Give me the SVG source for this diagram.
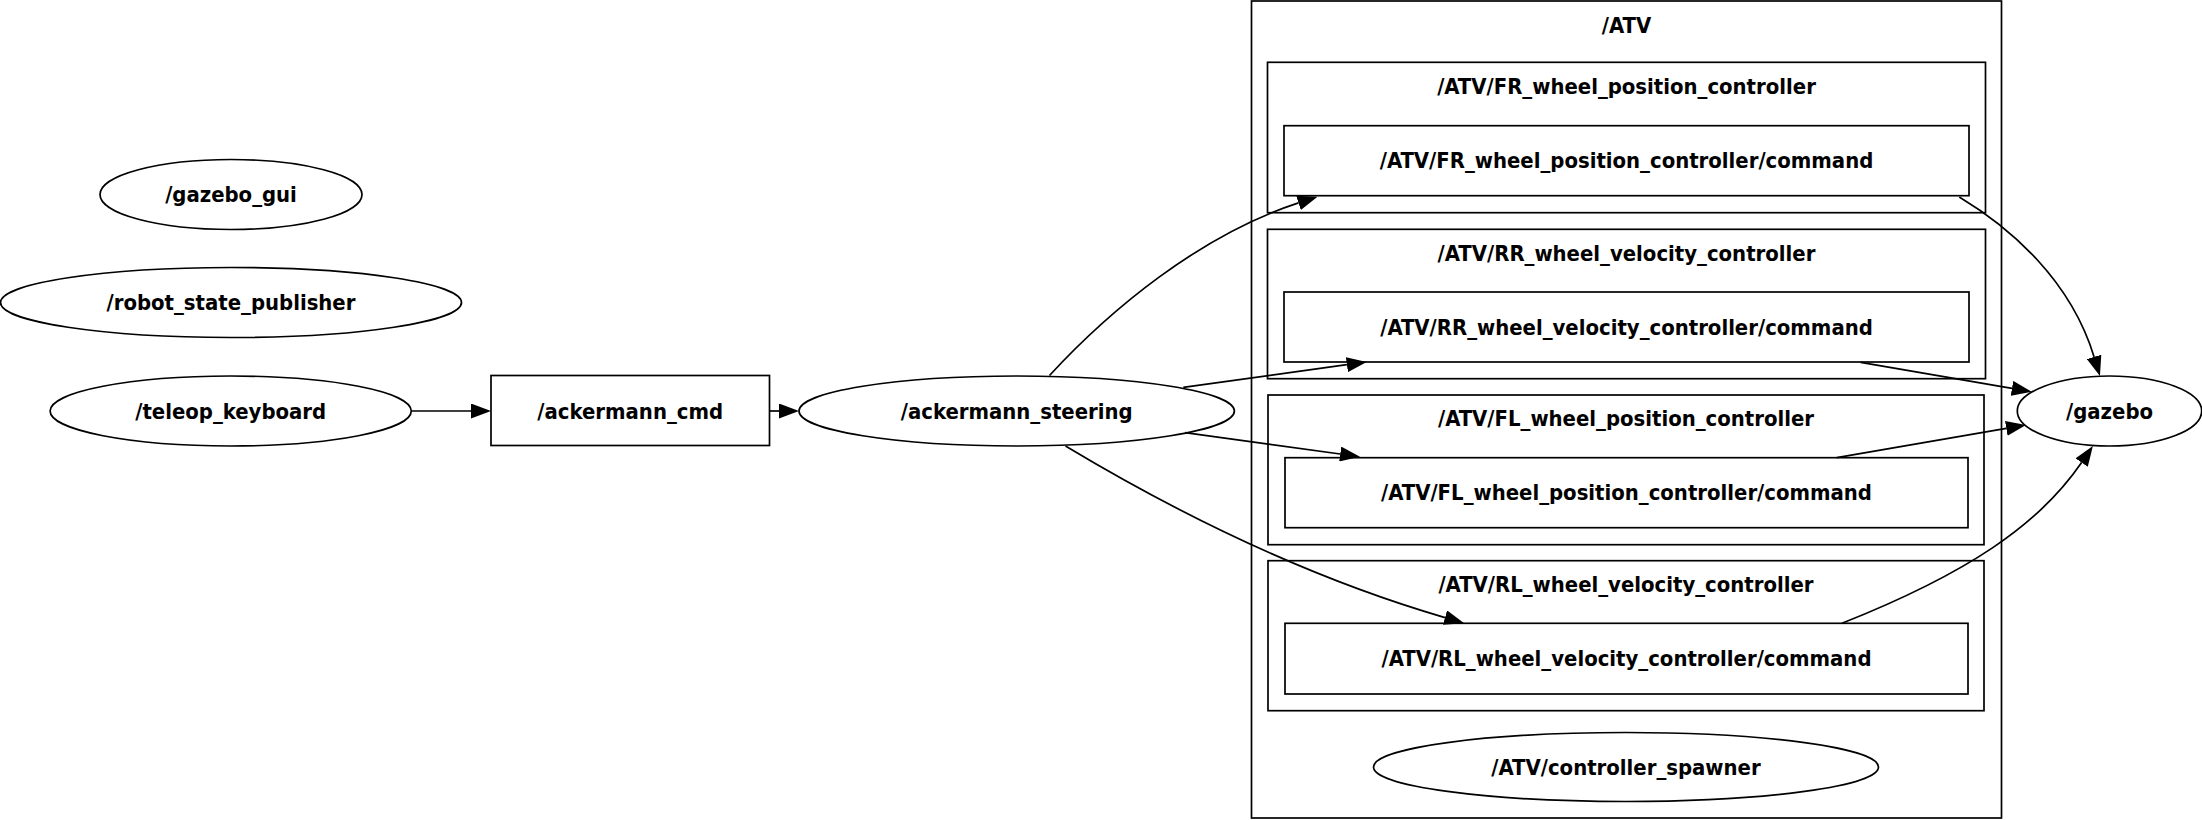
<svg xmlns="http://www.w3.org/2000/svg" width="2202" height="820" viewBox="0 0 2202 820">
<style>
.s{fill:#fff;stroke:#000;stroke-width:1.7}
.c{fill:none;stroke:#000;stroke-width:1.7}
text{font-family:"DejaVu Sans","Liberation Sans",sans-serif;font-stretch:condensed;font-weight:bold;font-size:21.9px;text-anchor:middle;fill:#000}
.e{fill:none;stroke:#000;stroke-width:1.7;marker-end:url(#ah)}
</style>
<defs>
<marker id="ah" markerWidth="20" markerHeight="15" refX="0" refY="7.5" orient="auto" markerUnits="userSpaceOnUse" viewBox="0 0 20 15"><path d="M0,0 L20,7.5 L0,15 Z" fill="#000"/></marker>
</defs>
<rect width="2202" height="820" fill="#fff"/>
<g id="cluster_ATV">
<rect class="c" x="1251.5" y="1" width="750" height="817"/>
<text x="1626.5" y="32.5">/ATV</text>
</g>
<g id="cluster_FR">
<rect class="c" x="1267.5" y="62.3" width="718" height="150.4"/>
<text x="1626.5" y="93.5">/ATV/FR_wheel_position_controller</text>
</g>
<g id="cluster_RR">
<rect class="c" x="1267.5" y="229.3" width="718" height="149.4"/>
<text x="1626.5" y="260.5">/ATV/RR_wheel_velocity_controller</text>
</g>
<g id="cluster_FL">
<rect class="c" x="1268" y="395" width="716" height="149.7"/>
<text x="1626" y="426">/ATV/FL_wheel_position_controller</text>
</g>
<g id="cluster_RL">
<rect class="c" x="1268" y="560.7" width="716" height="150"/>
<text x="1626" y="591.7">/ATV/RL_wheel_velocity_controller</text>
</g>
<g id="node_gazebo_gui">
<ellipse class="s" cx="231" cy="194.5" rx="131" ry="35"/>
<text x="231" y="202">/gazebo_gui</text>
</g>
<g id="node_robot_state_publisher">
<ellipse class="s" cx="231" cy="302.5" rx="230.5" ry="35"/>
<text x="231" y="310">/robot_state_publisher</text>
</g>
<g id="node_teleop_keyboard">
<ellipse class="s" cx="230.7" cy="411" rx="180.6" ry="35"/>
<text x="230.7" y="418.5">/teleop_keyboard</text>
</g>
<g id="node_ackermann_cmd">
<rect class="s" x="491" y="375.5" width="278.5" height="70"/>
<text x="630.2" y="418.5">/ackermann_cmd</text>
</g>
<g id="node_ackermann_steering">
<ellipse class="s" cx="1016.7" cy="411" rx="217.7" ry="35"/>
<text x="1016.7" y="418.5">/ackermann_steering</text>
</g>
<g id="node_FR_command">
<rect class="s" x="1284" y="125.7" width="685" height="70"/>
<text x="1626.5" y="168.2">/ATV/FR_wheel_position_controller/command</text>
</g>
<g id="node_RR_command">
<rect class="s" x="1284" y="292" width="685" height="70"/>
<text x="1626.5" y="334.5">/ATV/RR_wheel_velocity_controller/command</text>
</g>
<g id="node_FL_command">
<rect class="s" x="1285" y="457.7" width="683" height="70"/>
<text x="1626.5" y="500.2">/ATV/FL_wheel_position_controller/command</text>
</g>
<g id="node_RL_command">
<rect class="s" x="1285" y="623.3" width="683" height="70.7"/>
<text x="1626.5" y="666.1">/ATV/RL_wheel_velocity_controller/command</text>
</g>
<g id="node_controller_spawner">
<ellipse class="s" cx="1626" cy="767" rx="252.5" ry="34.5"/>
<text x="1626" y="774.5">/ATV/controller_spawner</text>
</g>
<g id="node_gazebo">
<ellipse class="s" cx="2109.5" cy="411" rx="92.2" ry="35"/>
<text x="2109.5" y="418.5">/gazebo</text>
</g>
<g id="connectors">
<path class="e" d="M411.3,411 L471,411"/>
<path class="e" d="M769.5,411 L779,411"/>
<path class="e" d="M1049.5,375.5 C1110,310 1200,235 1298.5,202.9"/>
<path class="e" d="M1183.3,387.3 L1346.9,364.7"/>
<path class="e" d="M1185,432.7 L1340.2,454"/>
<path class="e" d="M1065.5,446 C1195.5,524 1320.2,581.2 1445,617.6"/>
<path class="e" d="M1959.3,197 C2010.7,228 2070.7,280.1 2094.1,356.9"/>
<path class="e" d="M1860.7,362.3 L2012,388.3"/>
<path class="e" d="M1836.8,457.7 L2006.3,428.4"/>
<path class="e" d="M1842,623.3 C1967.3,573.5 2039,524.9 2081.6,462.6"/>
</g>
</svg>
